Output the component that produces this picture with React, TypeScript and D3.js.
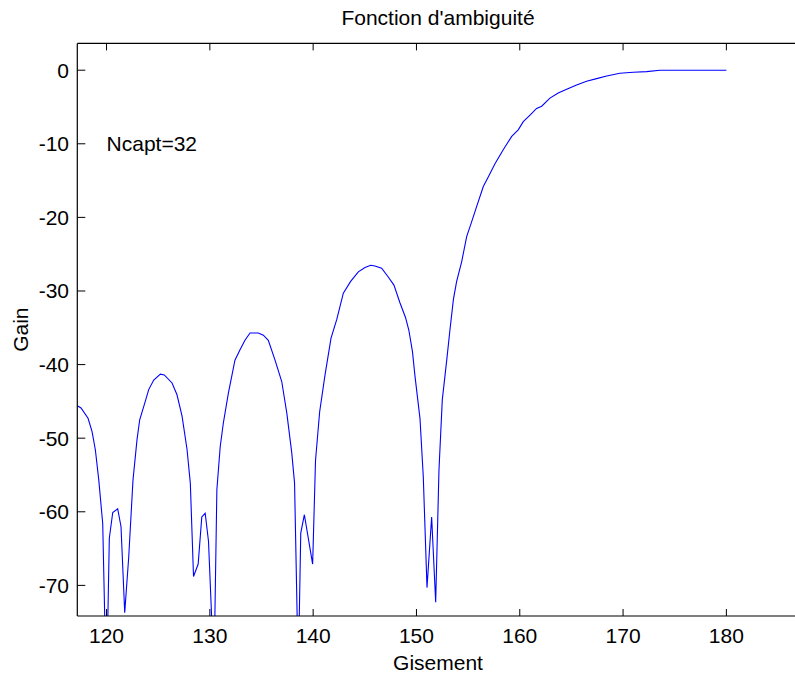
import React from "react";
import * as d3 from "d3";

const gisement = [
  117.17, 117.53, 118.21, 118.6, 118.92, 119.25, 119.63, 119.99, 120.27, 120.6,
  121.08, 121.4, 121.76, 122.15, 122.56, 122.95, 123.21, 123.75, 124.08, 124.57,
  125.21, 125.59, 126.34, 126.82, 127.31, 127.79, 128.11, 128.42, 128.87, 129.22,
  129.55, 129.87, 130.4, 130.68, 131.0, 131.3, 131.79, 132.43, 132.92, 133.4,
  133.89, 134.69, 135.18, 135.66, 136.31, 136.96, 137.45, 137.93, 138.2, 138.56,
  138.8, 139.15, 139.95, 140.23, 140.63, 141.15, 141.73, 142.28, 142.92, 143.63,
  144.37, 145.02, 145.57, 145.98, 146.63, 147.27, 147.82, 148.4, 148.94, 149.26,
  149.61, 149.86, 150.34, 150.66, 151.02, 151.47, 151.86, 152.18, 152.5, 152.93,
  153.24, 153.58, 153.89, 154.38, 154.86, 155.34, 155.83, 156.47, 156.95, 157.6,
  158.4, 159.22, 159.85, 160.34, 160.99, 161.63, 162.12, 162.92, 163.72, 164.54,
  165.5, 166.47, 167.44, 168.41, 169.69, 170.98, 172.28, 173.57, 174.21, 180.0,
];

const gain = [
  -45.6, -45.9, -47.3, -49.1, -51.6, -55.7, -61.6, -85.0, -63.6, -60.1,
  -59.6, -62.0, -73.7, -66.1, -55.7, -50.2, -47.5, -45.0, -43.4, -42.1,
  -41.3, -41.4, -42.5, -44.1, -47.0, -51.5, -56.1, -68.8, -67.1, -60.7,
  -60.2, -64.0, -82.0, -57.0, -51.2, -48.0, -43.9, -39.4, -38.0, -36.7,
  -35.7, -35.7, -36.0, -36.7, -39.4, -42.3, -46.6, -52.0, -56.1, -82.0,
  -62.9, -60.4, -67.1, -53.0, -46.4, -41.4, -36.4, -33.9, -30.3, -28.7,
  -27.4, -26.8, -26.5, -26.6, -26.9, -28.1, -29.2, -31.6, -33.6, -35.3,
  -38.2, -41.6, -47.3, -55.2, -70.3, -60.7, -72.3, -54.3, -44.8, -39.4,
  -35.3, -31.1, -28.7, -26.0, -22.6, -20.6, -18.5, -15.8, -14.5, -12.7,
  -10.8, -9.0, -8.1, -7.0, -6.1, -5.2, -4.9, -3.8, -3.1, -2.6,
  -2.0, -1.5, -1.15, -0.8, -0.42, -0.29, -0.2, -0.01, 0.0, 0.0,
];

const xTicks = [120, 130, 140, 150, 160, 170, 180];
const yTicks = [0, -10, -20, -30, -40, -50, -60, -70];

const title = "Fonction d'ambiguité";
const xLabel = "Gisement";
const yLabel = "Gain";
const annotation = "Ncapt=32";

export default function App() {
  const W = 795;
  const H = 676;
  const left = 77.3;
  const right = 798.7;
  const top = 43.4;
  const bottom = 616;

  const x = d3.scaleLinear().domain([117.17, 187.0]).range([left, right]);
  const y = d3.scaleLinear().domain([-74.16, 3.64]).range([bottom, top]);

  const pts: [number, number][] = gisement.map((g, i) => [g, gain[i]]);
  const line = d3
    .line<[number, number]>()
    .x((d) => x(d[0]))
    .y((d) => y(d[1]));

  const font = "'Liberation Sans', Arial, Helvetica, sans-serif";
  const fs = 21;

  return (
    <svg
      width={W}
      height={H}
      style={{ position: "absolute", left: 0, top: 0, background: "#fff" }}
      fontFamily={font}
    >
      <rect x={0} y={0} width={W} height={H} fill="#fff" />
      <defs>
        <clipPath id="plotclip">
          <rect x={left} y={top} width={right - left} height={bottom - top} />
        </clipPath>
      </defs>
      <path
        d={line(pts) || ""}
        fill="none"
        stroke="#0000ff"
        strokeWidth={1.1}
        clipPath="url(#plotclip)"
      />
      {/* axes box */}
      <line x1={left} x2={W} y1={top} y2={top} stroke="#000" strokeWidth={1.2} />
      <line x1={left} x2={W} y1={bottom} y2={bottom} stroke="#000" strokeWidth={1.2} />
      <line x1={left} x2={left} y1={top} y2={bottom} stroke="#000" strokeWidth={1.2} />
      {xTicks.map((t) => (
        <g key={"x" + t}>
          <line x1={x(t)} x2={x(t)} y1={bottom} y2={bottom - 7} stroke="#000" strokeWidth={1} />
          <line x1={x(t)} x2={x(t)} y1={top} y2={top + 7} stroke="#000" strokeWidth={1} />
          <text x={x(t)} y={643} textAnchor="middle" fontSize={fs} fill="#000">
            {t}
          </text>
        </g>
      ))}
      {yTicks.map((t) => (
        <g key={"y" + t}>
          <line x1={left} x2={left + 8} y1={y(t)} y2={y(t)} stroke="#000" strokeWidth={1} />
          <text
            x={69}
            y={y(t) + 7.5}
            textAnchor="end"
            fontSize={fs}
            fill="#000"
          >
            {t}
          </text>
        </g>
      ))}
      <text x={438} y={25} textAnchor="middle" fontSize={fs} fill="#000">
        {title}
      </text>
      <text x={438} y={670} textAnchor="middle" fontSize={fs} fill="#000">
        {xLabel}
      </text>
      <text
        transform={`translate(28, ${(top + bottom) / 2}) rotate(-90)`}
        textAnchor="middle"
        fontSize={fs}
        fill="#000"
      >
        {yLabel}
      </text>
      <text x={x(120)} y={y(-10) + 7.5} fontSize={fs} fill="#000">
        {annotation}
      </text>
    </svg>
  );
}
